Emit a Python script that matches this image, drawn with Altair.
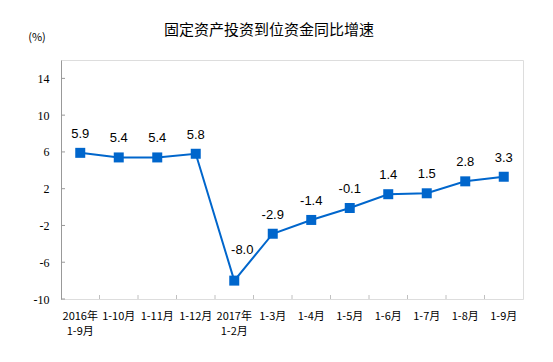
import altair as alt
import pandas as pd

categories = ["2016年|1-9月", "1-10月", "1-11月", "1-12月", "2017年|1-2月",
              "1-3月", "1-4月", "1-5月", "1-6月", "1-7月", "1-8月", "1-9月"]
values = [5.9, 5.4, 5.4, 5.8, -8.0, -2.9, -1.4, -0.1, 1.4, 1.5, 2.8, 3.3]
labels = ["5.9", "5.4", "5.4", "5.8", "-8.0", "-2.9", "-1.4", "-0.1", "1.4", "1.5", "2.8", "3.3"]
y_ticks = [-10, -6, -2, 2, 6, 10, 14]
title_text = "固定资产投资到位资金同比增速"
unit_text = "(%)"

df = pd.DataFrame({"cat": categories, "v": values, "lab": labels})
tick_df = pd.DataFrame({"t": y_ticks})
xt_df = pd.DataFrame({"cat": categories[1:]})

W, H = 462, 239
BLUE = "#0066CC"

xscale = alt.Scale(type="band", domain=categories, paddingInner=0, paddingOuter=0)
yscale = alt.Scale(domain=[-10, 16], nice=False, zero=False)

x_axis = alt.Axis(title=None, labelAngle=0, ticks=False, domain=False,
                  labelExpr="split(datum.label, '|')",
                  labelFont="Noto Sans CJK SC", labelFontSize=11,
                  labelColor="#000000", labelPadding=11,
                  labelLineHeight=15, labelBaseline="top",
                  labelOverlap=False)
y_axis = alt.Axis(title=None, values=y_ticks, grid=False, ticks=False,
                  domainColor="#999999", labelFont="Liberation Serif",
                  labelFontSize=12, labelColor="#000000",
                  labelExpr="'' + datum.value",
                  labelPadding=12, labelOverlap=False)

def xn(bp=0.5):
    return alt.X("cat:N", scale=xscale, bandPosition=bp, sort=None, axis=x_axis)

def yn(field="v:Q"):
    return alt.Y(field, scale=yscale, axis=y_axis)

line = alt.Chart(df).mark_line(color=BLUE, strokeWidth=2).encode(x=xn(), y=yn())
pts = alt.Chart(df).mark_square(color=BLUE, size=100, opacity=1).encode(x=xn(), y=yn())

txt = alt.Chart(df).transform_filter("datum.v > -5").mark_text(
    font="Liberation Sans", fontSize=13, color="#000000", dy=-19, baseline="middle"
).encode(x=xn(), y=yn(), text="lab:N")
txt_low = alt.Chart(df).transform_filter("datum.v <= -5").mark_text(
    font="Liberation Sans", fontSize=13, color="#000000", dy=-31, dx=8, baseline="middle"
).encode(x=xn(), y=yn(), text="lab:N")

yticks = alt.Chart(tick_df).mark_rule(color="#999999", strokeWidth=1).encode(
    y=yn("t:Q"), x=alt.value(0), x2=alt.value(4))
xticks = alt.Chart(xt_df).mark_rule(color="#c0c0c0", strokeWidth=1).encode(
    x=xn(0), y=alt.value(H), y2=alt.value(H - 4))

title = alt.Chart(pd.DataFrame({"t": [title_text]})).mark_text(
    font="Noto Sans CJK SC", fontSize=15, color="#000000", baseline="middle", align="center"
).encode(text="t:N", x=alt.value(208), y=alt.value(-30))
unit = alt.Chart(pd.DataFrame({"t": [unit_text]})).mark_text(
    font="Noto Sans CJK SC", fontSize=11, color="#000000", baseline="middle", align="center"
).encode(text="t:N", x=alt.value(-24), y=alt.value(-22))

chart = alt.layer(line, yticks, xticks, pts, txt, txt_low, title, unit).properties(
    width=W, height=H,
    autosize=alt.AutoSizeParams(type="none"),
    padding={"left": 53, "top": 52, "right": 20, "bottom": 50},
).configure_view(stroke="#c0c0c0", strokeWidth=1).configure(background="#ffffff")

chart.save("out.html", embed_options={"renderer": "svg", "actions": False})
